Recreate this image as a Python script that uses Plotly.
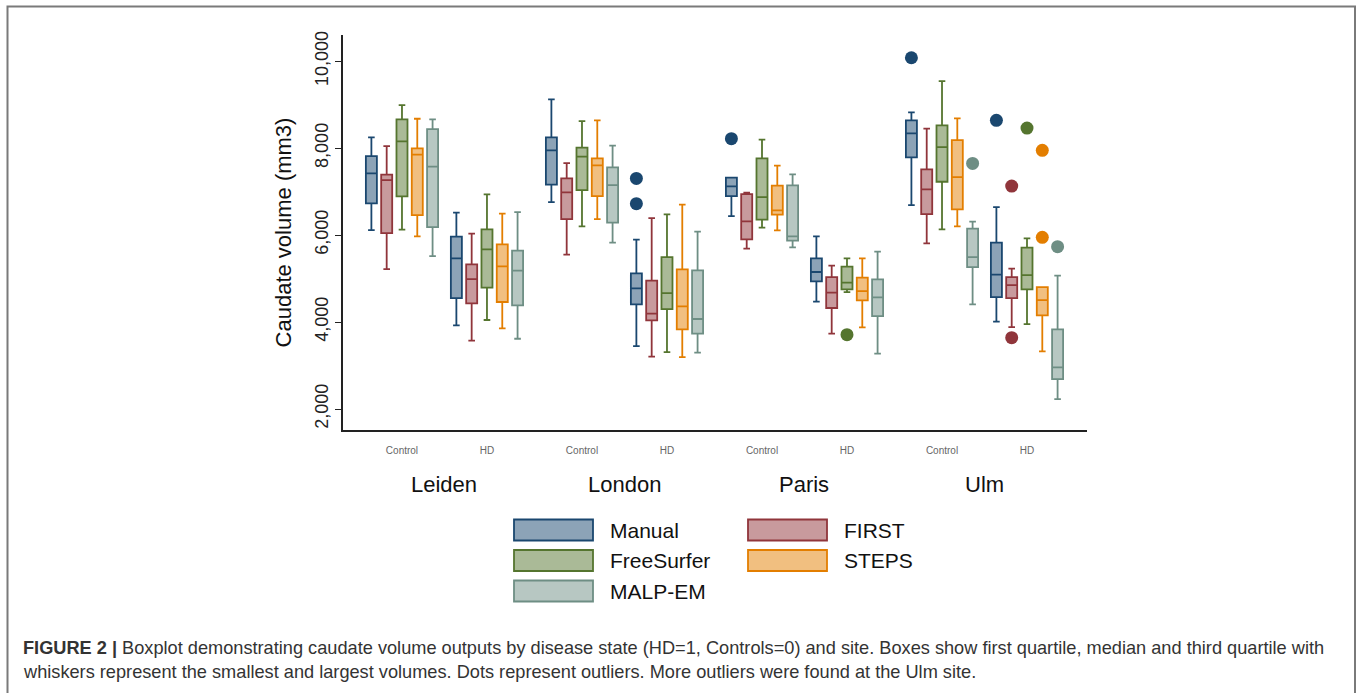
import plotly.graph_objects as go

# ---------------- data ----------------
SITES = ["Leiden", "London", "Paris", "Ulm"]
STATUS = ["Control", "HD"]
METHODS = ["Manual", "FIRST", "FreeSurfer", "STEPS", "MALP-EM"]

# groups order: Leiden C, Leiden HD, London C, London HD, Paris C, Paris HD, Ulm C, Ulm HD
manual_lower = [6115, 3923, 6758, 3447, 6436, 4468, 6689, 4009]
manual_q1 = [6728, 4551, 7158, 4406, 6896, 4935, 7786, 4574]
manual_median = [7418, 5464, 7946, 4774, 7119, 5150, 8338, 5089]
manual_q3 = [7816, 5963, 8245, 5119, 7319, 5464, 8637, 5825]
manual_upper = [8245, 6514, 9119, 5894, 7319, 5970, 8820, 6643]
manual_outliers = [[], [], [], [7303, 6721], [8216], [], [10077], [8637]]

first_lower = [5218, 3570, 5549, 3204, 5687, 3732, 5809, 3884]
first_q1 = [6046, 4429, 6368, 4039, 5901, 4322, 6483, 4551]
first_median = [7265, 4988, 6981, 4193, 6315, 4676, 7050, 4850]
first_q3 = [7388, 5325, 7303, 4951, 6942, 5034, 7510, 5034]
first_upper = [8046, 6031, 7655, 6391, 6974, 5296, 8445, 5227]
first_outliers = [[], [], [], [], [], [], [], [7126, 3640]]

fs_lower = [6123, 4046, 6200, 3310, 6170, 4689, 6131, 3953]
fs_q1 = [6890, 4790, 7034, 4298, 6353, 4751, 7226, 4751]
fs_median = [8153, 5670, 7802, 4666, 6873, 4905, 8023, 5080]
fs_q3 = [8659, 6130, 8009, 5494, 7763, 5273, 8522, 5710]
fs_upper = [8988, 6935, 8621, 6476, 8193, 5464, 9540, 5924]
fs_outliers = [[], [], [], [], [], [3709], [], [8460]]

steps_lower = [5970, 3853, 6368, 3195, 6108, 3876, 6200, 3326]
steps_q1 = [6460, 4460, 6896, 3832, 6469, 4498, 6590, 4153]
steps_median = [7848, 5280, 7602, 4360, 6568, 4712, 7333, 4505]
steps_q3 = [7993, 5786, 7763, 5211, 7135, 5020, 8184, 4804]
steps_upper = [8674, 6491, 8637, 6699, 7595, 5464, 8683, 4804]
steps_outliers = [[], [], [], [], [], [], [], [7947, 5947]]

malp_lower = [5517, 3615, 5825, 3296, 5717, 3273, 4406, 2229]
malp_q1 = [6184, 4382, 6284, 3732, 5871, 4137, 5264, 2689]
malp_median = [7572, 5180, 7149, 4069, 5970, 4567, 5494, 2958]
malp_q3 = [8437, 5640, 7556, 5188, 7142, 4981, 6147, 3832]
malp_upper = [8659, 6528, 8055, 6078, 7395, 5618, 6307, 5066]
malp_outliers = [[], [], [], [], [], [], [7648], [5733]]

Y_TICKS = [2000, 4000, 6000, 8000, 10000]

CAPTION_1 = ("<b>FIGURE 2 |</b> Boxplot demonstrating caudate volume outputs by disease state "
             "(HD=1, Controls=0) and site. Boxes show first quartile, median and third quartile with")
CAPTION_2 = ("whiskers represent the smallest and largest volumes. Dots represent outliers. "
             "More outliers were found at the Ulm site.")

# ---------------- style ----------------
LINE_COLORS = ["#1a476f", "#90353b", "#55752f", "#e37e00", "#6e8e84"]
FILL_COLORS = ["#8ca3b7", "#c89a9d", "#aaba97", "#f1bf80", "#b7c7c2"]
FONT = "Liberation Sans, Arial, Helvetica, sans-serif"

W, H = 1357, 693
L, R, T, B = 343, 270, 35, 263
PW, PH = W - L - R, H - T - B


def px(xp):
    return (xp - L) / PW


def py(yp):
    return (H - B - yp) / PH


SITE_STEP = 2.118
BOXGAP, BOXGROUPGAP = 0.1, 0.28
positions = [i * SITE_STEP + j for i in range(len(SITES)) for j in range(len(STATUS))]
tick_text = [s for _ in SITES for s in STATUS]
n_methods = len(METHODS)


def box_offset(k):
    # same offset plotly uses for grouped boxes (half category spacing = 0.5)
    return 2 * 0.5 * (-0.5 + (k + 0.5) / n_methods) * (1 - BOXGAP)


stats = [
    (manual_lower, manual_q1, manual_median, manual_q3, manual_upper, manual_outliers),
    (first_lower, first_q1, first_median, first_q3, first_upper, first_outliers),
    (fs_lower, fs_q1, fs_median, fs_q3, fs_upper, fs_outliers),
    (steps_lower, steps_q1, steps_median, steps_q3, steps_upper, steps_outliers),
    (malp_lower, malp_q1, malp_median, malp_q3, malp_upper, malp_outliers),
]

fig = go.Figure()
for k, name in enumerate(METHODS):
    lo, q1, med, q3, up, outl = stats[k]
    fig.add_trace(go.Box(
        name=name,
        x=positions,
        q1=q1, median=med, q3=q3, lowerfence=lo, upperfence=up,
        boxpoints=False,
        line=dict(color=LINE_COLORS[k], width=1.8),
        fillcolor=FILL_COLORS[k],
        whiskerwidth=0.6,
        showlegend=False,
    ))

for k, name in enumerate(METHODS):
    outl = stats[k][5]
    ox = [positions[g] + box_offset(k) for g, vals in enumerate(outl) for _ in vals]
    oy = [v for vals in outl for v in vals]
    fig.add_trace(go.Scatter(
        x=ox, y=oy, mode="markers", name=name + " outliers",
        marker=dict(size=13, color=LINE_COLORS[k], line=dict(width=0)),
        showlegend=False,
    ))

shapes = []
annotations = []

# outer frame
shapes.append(dict(type="rect", xref="paper", yref="paper",
                   x0=px(7.5), x1=px(1355), y0=py(720), y1=py(6.5),
                   line=dict(color="#7a7a7a", width=2), fillcolor="rgba(0,0,0,0)", layer="below"))

# site labels
for i, site in enumerate(SITES):
    annotations.append(dict(text=site, x=positions[2 * i] + 0.5, xref="x",
                            y=py(484), yref="paper", showarrow=False,
                            xanchor="center", yanchor="middle",
                            font=dict(family=FONT, size=22, color="#111111")))

# legend (two columns)
for idx, name in enumerate(METHODS):
    col, row = idx % 2, idx // 2
    x0 = 514 + col * 234
    yc = 530 + row * 30.5
    shapes.append(dict(type="rect", xref="paper", yref="paper",
                       x0=px(x0), x1=px(x0 + 79), y0=py(yc + 10.5), y1=py(yc - 10.5),
                       line=dict(color=LINE_COLORS[idx], width=1.8), fillcolor=FILL_COLORS[idx]))
    annotations.append(dict(text=name, x=px(x0 + 94), xref="paper", y=py(yc), yref="paper",
                            showarrow=False, xanchor="left", yanchor="middle",
                            font=dict(family=FONT, size=21, color="#111111")))

# caption
annotations.append(dict(text=CAPTION_1, x=px(21), xref="paper", y=py(648), yref="paper",
                        showarrow=False, xanchor="left", yanchor="middle",
                        font=dict(family=FONT, size=18.2, color="#333333")))
annotations.append(dict(text=CAPTION_2, x=px(21), xref="paper", y=py(672), yref="paper",
                        showarrow=False, xanchor="left", yanchor="middle",
                        font=dict(family=FONT, size=18.2, color="#333333")))

fig.update_layout(
    width=W, height=H,
    margin=dict(l=L, r=R, t=T, b=B, autoexpand=False),
    paper_bgcolor="white", plot_bgcolor="white",
    boxmode="group", boxgap=BOXGAP, boxgroupgap=BOXGROUPGAP,
    showlegend=False,
    shapes=shapes, annotations=annotations,
    font=dict(family=FONT),
    xaxis=dict(
        range=[-0.694, 3 * SITE_STEP + 1.706],
        tickmode="array", tickvals=positions, ticktext=tick_text,
        tickfont=dict(family=FONT, size=10, color="#666666"),
        showline=True, linecolor="#222222", linewidth=1.5,
        showgrid=False, zeroline=False, ticks="", ticklabelstandoff=10,
    ),
    yaxis=dict(
        range=[1517, 10600],
        tickmode="array", tickvals=Y_TICKS, tickformat=",",
        tickangle=-90,
        tickfont=dict(family=FONT, size=18, color="#222222"),
        showline=True, linecolor="#222222", linewidth=1.5,
        ticks="outside", ticklen=6, tickcolor="#222222", tickwidth=1.2,
        showgrid=False, zeroline=False,
        title=dict(text="Caudate volume (mm3)", standoff=14,
                   font=dict(family=FONT, size=22, color="#111111")),
    ),
)

fig.write_html("out.html", config={"displayModeBar": False},
               post_script="document.body.style.margin='0';document.body.style.overflow='hidden';")
